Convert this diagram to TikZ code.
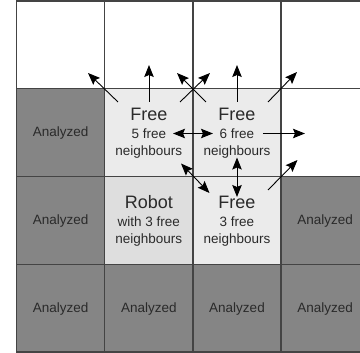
\documentclass[tikz,border=0pt]{standalone}
\usepackage{fontspec}
\setmainfont{Liberation Sans}
\usetikzlibrary{arrows.meta,calc}
\definecolor{anal}{HTML}{858585}
\definecolor{freec}{HTML}{EBEBEB}
\definecolor{robc}{HTML}{DEDEDE}
\definecolor{gridc}{HTML}{444444}
\definecolor{txt}{HTML}{2A2A2A}
\begin{document}
\begin{tikzpicture}[x=1pt,y=-1pt,
  cell/.style={draw=gridc,line width=1.4pt,minimum width=88.2pt,minimum height=87.75pt,inner sep=0pt,outer sep=0pt},
  small/.style={font=\fontsize{13.5}{16}\selectfont,text=txt,anchor=base,inner sep=0pt},
  big/.style={font=\fontsize{18}{20}\selectfont,text=txt,anchor=base,inner sep=0pt},
  arr/.style={-{Stealth[length=12pt,width=9.5pt,inset=2pt]},line width=0.9pt,black},
  darr/.style={{Stealth[length=12pt,width=9.5pt,inset=2pt]}-{Stealth[length=12pt,width=9.5pt,inset=2pt]},line width=0.9pt,black}]
\useasboundingbox (0,0) rectangle (360,353);
\clip (0,0) rectangle (360,353);
% cells
\node[cell,fill=white] (c11) at (60.6,44.9) {};
\node[cell,fill=white] (c12) at (148.8,44.9) {};
\node[cell,fill=white] (c13) at (237,44.9) {};
\node[cell,fill=white] (c14) at (325.2,44.9) {};
\node[cell,fill=anal] (c21) at (60.6,132.6) {};
\node[cell,fill=freec] (c22) at (148.8,132.6) {};
\node[cell,fill=freec] (c23) at (237,132.6) {};
\node[cell,fill=white] (c24) at (325.2,132.6) {};
\node[cell,fill=anal] (c31) at (60.6,220.4) {};
\node[cell,fill=robc] (c32) at (148.8,220.4) {};
\node[cell,fill=freec] (c33) at (237,220.4) {};
\node[cell,fill=anal] (c34) at (325.2,220.4) {};
\node[cell,fill=anal] (c41) at (60.6,308.1) {};
\node[cell,fill=anal] (c42) at (148.8,308.1) {};
\node[cell,fill=anal] (c43) at (237,308.1) {};
\node[cell,fill=anal] (c44) at (325.2,308.1) {};
% texts
\foreach \n in {c21,c31,c34,c41,c42,c43,c44}
  \node[small] (t\n) at ($(\n.center)+(0,4)$) {Analyzed};
\node[big] (f1a) at ($(c22.center)+(0,-12.3)$) {Free};
\node[small] (f1b) at ($(c22.center)+(0,6.3)$) {5 free};
\node[small] (f1c) at ($(c22.center)+(0,23)$) {neighbours};
\node[big] (f2a) at ($(c23.center)+(0,-12.3)$) {Free};
\node[small] (f2b) at ($(c23.center)+(0,6.3)$) {6 free};
\node[small] (f2c) at ($(c23.center)+(0,23)$) {neighbours};
\node[big] (ra) at ($(c32.center)+(0,-12.3)$) {Robot};
\node[small] (rb) at ($(c32.center)+(0,6.3)$) {with 3 free};
\node[small] (rc) at ($(c32.center)+(0,23)$) {neighbours};
\node[big] (f3a) at ($(c33.center)+(0,-12.3)$) {Free};
\node[small] (f3b) at ($(c33.center)+(0,6.3)$) {3 free};
\node[small] (f3c) at ($(c33.center)+(0,23)$) {neighbours};
% arrow endpoints
\coordinate (a1s) at (118,102); \coordinate (a1e) at (88,73);
\coordinate (a2s) at (149,102); \coordinate (a2e) at (149,65);
\coordinate (a3s) at (180,102); \coordinate (a3e) at (210,73);
\coordinate (a4s) at (206,102); \coordinate (a4e) at (177,73);
\coordinate (a5s) at (237,102); \coordinate (a5e) at (237,65);
\coordinate (a6s) at (268,102); \coordinate (a6e) at (297,72);
\coordinate (a7s) at (173,133.5); \coordinate (a7e) at (213,133.5);
\coordinate (a8s) at (263,133.5); \coordinate (a8e) at (305,133.5);
\coordinate (a9s) at (181,163.5); \coordinate (a9e) at (209.5,193);
\coordinate (a10s) at (237,157.5); \coordinate (a10e) at (237,197);
\coordinate (a11s) at (268,190); \coordinate (a11e) at (297.5,160);
\draw[arr] (a1s) -- (a1e);
\draw[arr] (a2s) -- (a2e);
\draw[arr] (a3s) -- (a3e);
\draw[arr] (a4s) -- (a4e);
\draw[arr] (a5s) -- (a5e);
\draw[arr] (a6s) -- (a6e);
\draw[darr] (a7s) -- (a7e);
\draw[arr] (a8s) -- (a8e);
\draw[darr] (a9s) -- (a9e);
\draw[darr] (a10s) -- (a10e);
\draw[arr] (a11s) -- (a11e);
\end{tikzpicture}
\end{document}
